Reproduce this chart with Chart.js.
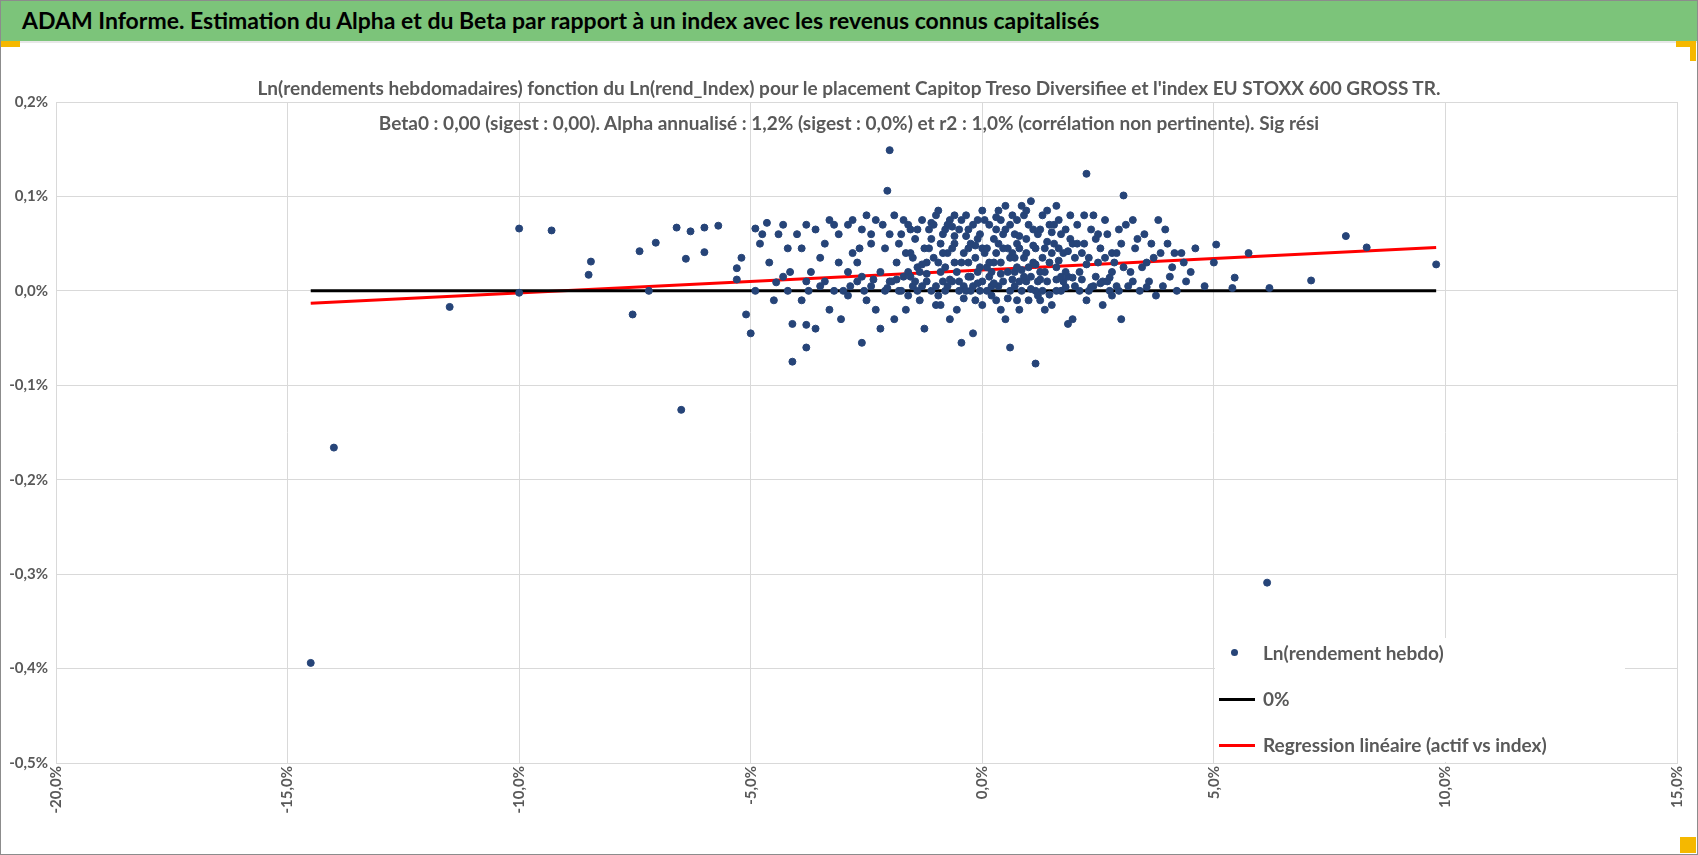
<!DOCTYPE html>
<html>
<head>
<meta charset="utf-8">
<script src="https://cdn.jsdelivr.net/npm/chart.js@4"></script>
<style>
  body { margin: 0; width: 1698px; height: 855px; overflow: hidden; background: #fff; font-family: Lato, "Open Sans", sans-serif; }
  #frame { position: absolute; left: 0; top: 0; width: 1696px; height: 853px; border: 1px solid #8c8c8c; }
  #header { position: absolute; left: 0; top: 0; width: 1698px; height: 41px; background: #7cc47a; border-bottom: 2px solid #e8e8e8; }
  #header span { position: absolute; left: 22px; top: 6px; font-size: 23px; font-weight: bold; color: #000; }
  .mark { position: absolute; background: #f5b800; }
  #subtitle { position: absolute; left: 0; width: 1698px; top: 70px; text-align: center; color: #595959; font-size: 19px; font-weight: bold; line-height: 35px; }
  #chartBox { position: absolute; left: 0; top: 0; width: 1698px; height: 855px; }
  #legend { position: absolute; left: 1215px; top: 638px; width: 410px; height: 124px; color: #595959; font-size: 19px; font-weight: bold; background: #fff; }
  .row { position: relative; height: 46px; padding-left: 48px; line-height: 30px; }
  .dot { position: absolute; left: 16px; top: 11px; width: 7px; height: 7px; border-radius: 50%; background: #264478; }
  .ln { position: absolute; left: 4px; top: 14px; width: 36px; height: 3px; }
</style>
</head>
<body>
<div id="chartBox"><canvas id="scatterChart" width="1698" height="855"></canvas></div>
<div id="header"><span>ADAM Informe. Estimation du Alpha et du Beta par rapport à un index avec les revenus connus capitalisés</span></div>
<div class="mark" style="left:0;top:41px;width:20px;height:6px"></div>
<div class="mark" style="left:1676px;top:41px;width:20px;height:6px"></div>
<div class="mark" style="left:1690px;top:41px;width:6px;height:20px"></div>
<div class="mark" style="left:1680px;top:837px;width:16px;height:16px"></div>
<div id="subtitle">Ln(rendements hebdomadaires) fonction du Ln(rend_Index) pour le placement Capitop Treso Diversifiee et l'index EU STOXX 600 GROSS TR.<br>Beta0 : 0,00 (sigest : 0,00). Alpha annualisé : 1,2% (sigest : 0,0%) et r2 : 1,0% (corrélation non pertinente). Sig rési</div>
<div id="legend">
  <div class="row"><div class="dot"></div>Ln(rendement hebdo)</div>
  <div class="row"><div class="ln" style="background:#000"></div>0%</div>
  <div class="row"><div class="ln" style="background:#ff0000"></div>Regression linéaire (actif vs index)</div>
</div>
<div id="frame"></div>
<script>
// weekly log returns: [index %, asset %]
const outliers = [
  [-14.5,-0.394],[-14.0,-0.166],[6.15,-0.309],[-6.5,-0.126],[-11.5,-0.017],[-10.0,0.066],[-9.3,0.064],
  [-10.0,-0.002],[-8.45,0.031],[-8.5,0.017],[-7.55,-0.025],[-7.4,0.042],[-7.05,0.051],[-6.6,0.067],
  [-6.3,0.063],[-6.0,0.067],[-5.7,0.069],[-6.4,0.034],[-6.0,0.041],[-2.0,0.149],[-2.05,0.106],
  [2.25,0.124],[3.05,0.101],[7.85,0.058],[8.3,0.046],[9.8,0.028],[7.1,0.011],[6.2,0.003],[5.4,0.003],
  [5.45,0.014],[5.75,0.040],[5.05,0.049],[1.15,-0.077],[-4.1,-0.075],[-5.0,-0.045],[-5.1,-0.025],
  [-7.2,0.0],[-5.3,0.012],[-5.3,0.024],[-5.2,0.035],[-4.9,0.066],[-4.65,0.072],[-4.75,0.06],
  [-4.45,0.009],[-4.15,0.02],[-3.8,-0.06],[-3.8,-0.036]
];
const cloudLeft = [
  [-4.9,0.0],[-4.6,0.03],[-4.4,0.06],[-4.2,0.045],[-4.1,-0.035],[-4.5,-0.01],[-4.3,0.07],[-4.8,0.05],
  [-4,0.06],[-3.9,0.045],[-3.8,0.07],[-3.7,0.02],[-3.6,0.065],[-3.5,0.005],[-3.4,0.05],[-3.3,-0.02],
  [-3.2,0.07],[-3.1,0.03],[-3.0,0.0],[-3.9,-0.01],[-3.6,-0.04],[-3.3,0.075],[-3.5,0.035],[-4.2,0.0],
  [-4.3,0.015],[-3.8,0.01],[-3.1,0.06],[-3.05,-0.03],
  [-2.9,0.07],[-2.8,0.04],[-2.7,0.01],[-2.6,0.065],[-2.5,-0.01],[-2.4,0.05],[-2.3,0.075],[-2.2,0.02],
  [-2.1,0.0],[-2.0,0.06],[-2.9,-0.005],[-2.7,0.03],[-2.5,0.08],[-2.4,0.005],[-2.2,-0.04],[-2.1,0.045],
  [-2.8,0.075],[-2.6,0.015],[-2.3,-0.02],[-2.0,0.01],[-2.9,0.02],[-2.4,0.06],[-2.6,-0.055],[-2.15,0.07],
  [-3.4,0.01],[-3.2,0.0],[-2.85,0.005],[-2.55,0.0],[-2.35,0.012],[-2.05,0.003],[-3.75,0.0],[-2.65,0.045]
];
const cloudMid = [
  [-1.9,0.08],[-1.85,0.03],[-1.8,0.0],[-1.75,0.06],[-1.7,0.015],[-1.65,-0.02],[-1.6,0.07],[-1.55,0.04],
  [-1.5,0.005],[-1.45,0.055],[-1.4,0.025],[-1.35,-0.01],[-1.3,0.075],[-1.25,0.045],[-1.2,0.01],
  [-1.15,0.065],[-1.1,0.0],[-1.05,0.035],[-1.0,0.08],[-1.95,0.01],[-1.8,0.05],[-1.6,0.02],[-1.4,0.065],
  [-1.2,0.03],[-1.0,-0.015],[-1.9,-0.03],[-1.7,0.075],[-1.5,0.035],[-1.3,0.005],[-1.1,0.055],
  [-1.75,0.0],[-1.55,0.065],[-1.35,0.02],[-1.15,0.045],[-1.65,0.04],[-1.45,0.01],[-1.25,-0.04],[-1.05,0.07],
  [-0.95,0.085],[-0.9,0.02],[-0.85,0.06],[-0.8,0.0],[-0.75,0.04],[-0.7,0.075],[-0.65,0.01],[-0.6,0.05],
  [-0.55,-0.02],[-0.5,0.065],[-0.45,0.03],[-0.4,0.005],[-0.35,0.08],[-0.3,0.045],[-0.25,0.015],
  [-0.2,0.07],[-0.15,-0.01],[-0.1,0.055],[-0.05,0.025],[0.0,0.085],[-0.95,0.03],[-0.85,0.01],
  [-0.75,0.07],[-0.65,0.045],[-0.55,0.02],[-0.45,0.075],[-0.35,0.0],[-0.25,0.05],[-0.15,0.035],
  [-0.05,0.0],[-0.9,0.05],[-0.7,-0.03],[-0.5,0.01],[-0.3,0.065],[-0.1,0.02],[-0.8,0.065],[-0.6,0.08],
  [-0.4,0.04],[-0.2,-0.045],[-0.05,0.06],[-0.9,-0.015],[-0.6,0.03],[-0.3,0.015],[-0.1,0.075],
  [-0.45,-0.055],[-0.75,0.005],[-0.2,0.005],[-0.5,0.0],[-1.0,0.005],
  [-1.85,0.012],[-1.6,-0.005],[-1.4,0.0],[-1.2,0.018],[-0.95,-0.005],[-0.7,0.012],[-0.4,-0.008],
  [-0.25,0.0],[-0.1,0.008],[-1.55,0.015],[-1.3,0.028],[-0.85,0.04],[-0.6,0.058],[-0.3,0.03],
  [-0.15,0.048],[-0.65,0.068],[-1.1,0.072],[-0.35,0.058],[0.0,0.045],[0.0,-0.015],[-0.8,0.025]
];
const cloudRight = [
  [0.05,0.04],[0.1,0.0],[0.15,0.07],[0.2,0.02],[0.25,0.055],[0.3,-0.01],[0.35,0.085],[0.4,0.03],
  [0.45,0.01],[0.5,0.065],[0.55,0.045],[0.6,0.0],[0.65,0.08],[0.7,0.02],[0.75,0.05],[0.8,-0.02],
  [0.85,0.09],[0.9,0.035],[0.95,0.01],[1.0,0.07],[0.05,0.075],[0.15,0.015],[0.25,0.03],[0.35,0.005],
  [0.45,0.06],[0.55,0.02],[0.65,0.04],[0.75,0.075],[0.85,0.0],[0.95,0.055],[0.1,0.045],[0.3,0.065],
  [0.5,-0.03],[0.7,0.06],[0.9,0.015],[0.2,-0.005],[0.4,0.075],[0.6,0.035],[0.8,0.045],[1.0,0.025],
  [0.1,0.025],[0.3,0.04],[0.5,0.09],[0.7,0.005],[0.9,0.08],[0.6,-0.06],[0.35,0.05],[0.75,0.025],
  [1.05,0.095],[1.1,0.03],[1.15,0.0],[1.2,0.06],[1.25,0.02],[1.3,0.08],[1.35,0.045],[1.4,0.01],
  [1.45,0.07],[1.5,-0.015],[1.55,0.05],[1.6,0.025],[1.65,0.075],[1.7,0.0],[1.75,0.04],[1.8,0.065],
  [1.85,0.015],[1.9,0.055],[1.95,-0.03],[2.0,0.035],[1.1,0.065],[1.2,0.01],[1.3,0.035],[1.4,0.085],
  [1.5,0.04],[1.6,0.0],[1.7,0.06],[1.8,0.02],[1.9,0.08],[2.0,0.005],[1.15,0.045],[1.35,0.02],
  [1.55,0.07],[1.75,0.01],[1.95,0.05],[1.25,-0.01],[1.45,0.03],[1.65,0.045],[1.85,-0.035],[1.05,0.015],
  [1.6,0.09],[1.3,0.0],[0.2,0.005],[0.8,0.01],[1.2,-0.005],[1.7,0.015],[0.0,0.01],[1.0,-0.01],
  [0.15,0.03],[0.25,0.008],[0.4,0.018],[0.55,-0.008],[0.65,0.012],[0.85,0.022],[1.05,0.002],
  [1.25,0.012],[1.45,-0.004],[1.6,0.012],[1.8,0.004],[1.95,0.014],[0.45,0.045],[0.7,0.035],
  [0.95,0.04],[1.15,0.028],[1.4,0.052],[1.65,0.032],[1.85,0.042],[0.3,0.078],[0.6,0.07],[0.95,0.085],
  [1.25,0.065],[1.5,0.062],[0.8,0.058],[1.1,0.048],[0.4,-0.02],[0.75,-0.01],[1.35,-0.02]
];
const cloudFar = [
  [2.05,0.07],[2.1,0.02],[2.2,0.05],[2.3,0.0],[2.4,0.08],[2.5,0.03],[2.6,0.01],[2.7,0.06],[2.8,0.04],
  [2.9,0.005],[3.0,0.05],[2.15,0.04],[2.25,-0.01],[2.35,0.065],[2.45,0.015],[2.55,0.045],[2.65,0.075],
  [2.75,0.0],[2.85,0.03],[2.95,0.065],[2.1,0.0],[2.3,0.035],[2.5,0.06],[2.7,0.01],[2.9,0.04],
  [2.2,0.08],[2.6,-0.015],[2.8,0.02],[3.0,-0.03],[2.4,0.005],[2.8,-0.005],
  [3.1,0.07],[3.2,0.02],[3.3,0.045],[3.4,0.0],[3.5,0.06],[3.6,0.01],[3.7,0.035],[3.8,0.075],
  [3.9,0.005],[4.0,0.05],[4.1,0.025],[4.2,0.0],[4.3,0.04],[4.4,0.01],[4.5,0.02],[3.15,0.005],
  [3.35,0.055],[3.55,0.03],[3.75,-0.005],[3.95,0.065],[4.15,0.04],[4.35,0.03],[3.25,0.075],
  [3.65,0.05],[4.05,0.015],[3.45,0.025],[3.85,0.04],[4.6,0.045],[4.8,0.005],[5.0,0.03],
  [2.15,0.012],[2.35,0.004],[2.55,0.008],[2.75,0.014],[2.95,0.0],[3.25,0.01],[3.55,0.004],
  [2.25,0.028],[2.65,0.035],[3.05,0.025],[2.45,0.055],[2.05,0.05]
];
const zeroLine = [[-14.5,0],[9.8,0]];
const regressionLine = [[-14.5,-0.013],[9.8,0.046]];
const xTicks = [-20,-15,-10,-5,0,5,10,15];
const yTicks = [0.2,0.1,0,-0.1,-0.2,-0.3,-0.4,-0.5];

const toXY = arr => arr.map(p => ({ x: p[0], y: p[1] }));
const pct = v => v.toFixed(1).replace('.', ',') + '%';
const returns = [].concat(outliers, cloudLeft, cloudMid, cloudRight, cloudFar);

const tickFont = { family: 'Lato, sans-serif', size: 15, weight: 'bold' };

new Chart(document.getElementById('scatterChart').getContext('2d'), {
  type: 'scatter',
  data: {
    datasets: [
      { label: 'Ln(rendement hebdo)', data: toXY(returns), backgroundColor: '#264478', borderColor: '#264478', pointRadius: 3.5, order: 0 },
      { label: '0%', data: toXY(zeroLine), showLine: true, borderColor: '#000', borderWidth: 3, pointRadius: 0, order: 1 },
      { label: 'Regression linéaire (actif vs index)', data: toXY(regressionLine), showLine: true, borderColor: '#ff0000', borderWidth: 3, pointRadius: 0, order: 1 }
    ]
  },
  options: {
    responsive: false,
    animation: false,
    events: [],
    layout: { padding: { left: 0, right: 16, top: 102, bottom: 0 } },
    plugins: { legend: { display: false }, tooltip: { enabled: false } },
    scales: {
      x: {
        min: -20, max: 15,
        afterBuildTicks: s => { s.ticks = xTicks.map(v => ({ value: v })); },
        afterFit: s => { s.height = 92; },
        ticks: { callback: v => pct(v), minRotation: 90, maxRotation: 90, color: '#595959', font: tickFont },
        grid: { color: '#d9d9d9', drawTicks: false },
        border: { color: '#d9d9d9' }
      },
      y: {
        min: -0.5, max: 0.2,
        afterBuildTicks: s => { s.ticks = yTicks.map(v => ({ value: v })); },
        afterFit: s => { s.width = 56; },
        ticks: { callback: v => pct(v), color: '#595959', font: tickFont, padding: 8 },
        grid: { color: '#d9d9d9', drawTicks: false },
        border: { color: '#d9d9d9' }
      }
    }
  }
});
</script>
</body>
</html>
